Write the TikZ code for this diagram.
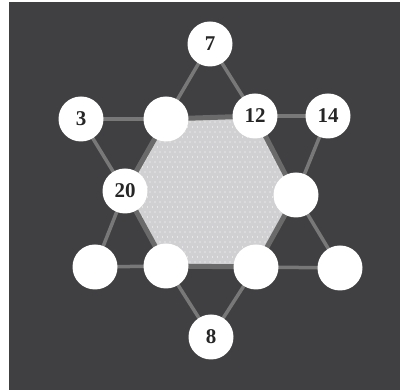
\documentclass[tikz,border=0pt]{standalone}
\usepackage{fontspec}
\setmainfont{Liberation Serif}
\definecolor{bgdark}{HTML}{404043}
\definecolor{linegrey}{HTML}{787878}
\definecolor{hexedge}{HTML}{6A6A6A}
\definecolor{hexfill}{HTML}{D0D0D2}
\begin{document}
\begin{tikzpicture}[x=1pt,y=1pt,
  dot/.style={circle,fill=white,minimum size=45pt,inner sep=0pt,
    font=\fontsize{21}{21}\selectfont\bfseries,text=black!85},
  outerline/.style={draw=linegrey,line width=3.5pt},
  hexline/.style={draw=hexedge,line width=5pt,line join=round}]
\useasboundingbox (0,0) rectangle (400,390);
\fill[white] (0,0) rectangle (400,390);
\fill[bgdark] (9,0) rectangle (400,388);
% coordinates
\coordinate (c7) at (210,346);
\coordinate (c3) at (81,271);
\coordinate (ctl) at (166,271);
\coordinate (c12) at (255,274);
\coordinate (c14) at (328,274);
\coordinate (c20) at (125,199);
\coordinate (cr) at (296,195);
\coordinate (cbl) at (95,123);
\coordinate (cb) at (166,124);
\coordinate (cbr) at (256,123);
\coordinate (cfbr) at (340,122);
\coordinate (c8) at (211,53);
% hexagon
\fill[hexfill] (ctl) -- (c12) -- (cr) -- (cbr) -- (cb) -- (c20) -- cycle;
\begin{scope}
\clip (ctl) -- (c12) -- (cr) -- (cbr) -- (cb) -- (c20) -- cycle;
\foreach \j in {0,...,32}{
  \foreach \i in {0,...,36}{
    \fill[white] ({120+\i*5+mod(\j,2)*2.5},{118+\j*5}) circle (0.6pt);
  }
}
\end{scope}
\draw[hexline] (ctl) -- (c12) -- (cr) -- (cbr) -- (cb) -- (c20) -- cycle;
% outer lines
\draw[outerline] (c7) -- (ctl);
\draw[outerline] (c7) -- (c12);
\draw[outerline] (c3) -- (ctl);
\draw[outerline] (c3) -- (c20);
\draw[outerline] (c12) -- (c14);
\draw[outerline] (c14) -- (cr);
\draw[outerline] (c20) -- (cbl);
\draw[outerline] (cbl) -- (cb);
\draw[outerline] (cr) -- (cfbr);
\draw[outerline] (cbr) -- (cfbr);
\draw[outerline] (cb) -- (c8);
\draw[outerline] (cbr) -- (c8);
% nodes
\node[dot] (n7) at (c7) {7};
\node[dot] (n3) at (c3) {3};
\node[dot] (ntl) at (ctl) {};
\node[dot] (n12) at (c12) {12};
\node[dot] (n14) at (c14) {14};
\node[dot] (n20) at (c20) {20};
\node[dot] (nr) at (cr) {};
\node[dot] (nbl) at (cbl) {};
\node[dot] (nb) at (cb) {};
\node[dot] (nbr) at (cbr) {};
\node[dot] (nfbr) at (cfbr) {};
\node[dot] (n8) at (c8) {8};
\end{tikzpicture}
\end{document}
